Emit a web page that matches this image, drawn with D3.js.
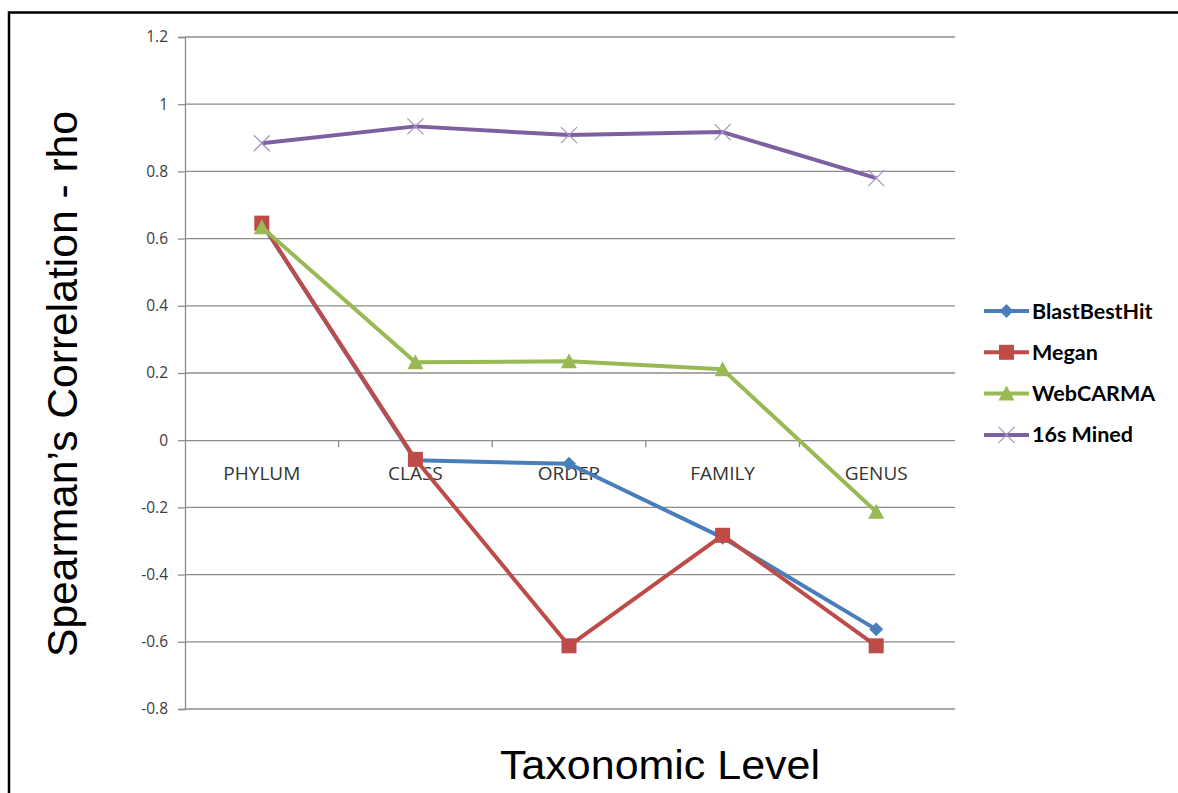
<!DOCTYPE html>
<html>
<head>
<meta charset="utf-8">
<script src="https://cdn.jsdelivr.net/npm/d3@7"></script>
<style>
  html, body { margin: 0; padding: 0; background: #fff; }
  svg { display: block; }
</style>
</head>
<body>
<svg id="chart" width="1178" height="793"></svg>
<script>
// Taxonomic levels on the x axis
const categories = ["PHYLUM", "CLASS", "ORDER", "FAMILY", "GENUS"];

// Spearman's rho per method
const blastBestHit = [0.645, -0.06, -0.07, -0.29, -0.563];
const megan        = [0.646, -0.057, -0.612, -0.283, -0.612];
const webCarma     = [0.634, 0.232, 0.235, 0.211, -0.213];
const mined16s     = [0.884, 0.934, 0.908, 0.917, 0.78];

// Y axis ticks
const yTicks = [-0.8, -0.6, -0.4, -0.2, 0, 0.2, 0.4, 0.6, 0.8, 1, 1.2];

const seriesNames  = ["BlastBestHit", "Megan", "WebCARMA", "16s Mined"];
const seriesValues = [blastBestHit, megan, webCarma, mined16s];
const seriesColors = ["#4A7EBB", "#BE4B48", "#98B954", "#7D60A0"];
const seriesMarker = ["diamond", "square", "triangle", "cross"];

const svg = d3.select("#chart");

// Frame around the chart
svg.append("rect")
  .attr("x", 9).attr("y", 12.5)
  .attr("width", 1200).attr("height", 900)
  .attr("fill", "none").attr("stroke", "#000").attr("stroke-width", 2.5);

const plot = { left: 185, right: 953, top: 37, bottom: 709 };

const x = d3.scaleBand().domain(categories).range([plot.left, plot.right]);
const y = d3.scaleLinear().domain([-0.8, 1.2]).range([plot.bottom, plot.top]);

// Left axis with ticks
const yAxis = d3.axisLeft(y).tickValues(yTicks).tickSize(7)
  .tickFormat(d => String(+d.toFixed(1)));
const gy = svg.append("g").attr("transform", `translate(${plot.left},0)`).call(yAxis);
gy.select(".domain").attr("stroke", "#8c8c8c").attr("stroke-width", 1.3);
gy.selectAll(".tick line").attr("stroke", "#8c8c8c").attr("stroke-width", 1.3);
gy.selectAll(".tick text")
  .attr("x", -17)
  .attr("fill", "#3c3c3c")
  .style("font-family", "'Open Sans', 'DejaVu Sans', sans-serif")
  .style("font-size", "15.5px");

// Horizontal gridlines
svg.append("g").selectAll("line")
  .data(yTicks.filter(v => v !== 0))
  .join("line")
  .attr("x1", plot.left).attr("x2", plot.right + 2)
  .attr("y1", d => y(d)).attr("y2", d => y(d))
  .attr("stroke", "#8c8c8c").attr("stroke-width", 1.3);

// Category axis sitting on the zero line
const xAxis = d3.axisBottom(x).tickSize(0).tickSizeOuter(0);
const gx = svg.append("g").attr("transform", `translate(0,${y(0)})`).call(xAxis);
gx.select(".domain").attr("d", `M${plot.left},0.5H${plot.right + 2}`)
  .attr("stroke", "#8c8c8c").attr("stroke-width", 1.3);
gx.selectAll(".tick text")
  .attr("y", 40).attr("dy", 0)
  .attr("fill", "#333")
  .style("font-family", "'Open Sans', 'DejaVu Sans', sans-serif")
  .style("font-size", "19px");

// Tick marks between categories
svg.append("g").selectAll("line")
  .data(categories.slice(1))
  .join("line")
  .attr("x1", d => x(d)).attr("x2", d => x(d))
  .attr("y1", y(0)).attr("y2", y(0) + 7)
  .attr("stroke", "#8c8c8c").attr("stroke-width", 1.3);

// Series lines and markers
const line = d3.line()
  .x((d, i) => x(categories[i]) + x.bandwidth() / 2)
  .y(d => y(d));

function drawMarker(g, type, color, cx, cy) {
  if (type === "diamond") {
    g.append("path").attr("d", `M${cx},${cy - 7}L${cx + 7},${cy}L${cx},${cy + 7}L${cx - 7},${cy}Z`)
      .attr("fill", color);
  } else if (type === "square") {
    g.append("rect").attr("x", cx - 7.5).attr("y", cy - 7.5).attr("width", 15).attr("height", 15)
      .attr("fill", color);
  } else if (type === "triangle") {
    g.append("path").attr("d", `M${cx},${cy - 8}L${cx + 8},${cy + 7}L${cx - 8},${cy + 7}Z`)
      .attr("fill", color);
  } else {
    g.append("path").attr("d", `M${cx - 8},${cy - 8}L${cx + 8},${cy + 8}M${cx - 8},${cy + 8}L${cx + 8},${cy - 8}`)
      .attr("stroke", "#a594c4").attr("stroke-width", 1.3).attr("fill", "none");
  }
}

seriesValues.forEach((vals, s) => {
  const g = svg.append("g");
  g.append("path").datum(vals)
    .attr("d", line)
    .attr("fill", "none")
    .attr("stroke", seriesColors[s])
    .attr("stroke-width", 4)
    .attr("stroke-linejoin", "round");
  vals.forEach((v, i) => {
    drawMarker(g, seriesMarker[s], seriesColors[s], x(categories[i]) + x.bandwidth() / 2, y(v));
  });
});

// Legend
const legend = svg.append("g");
seriesNames.forEach((name, s) => {
  const ly = 311 + s * 41.3;
  const g = legend.append("g");
  g.append("line").attr("x1", 984).attr("x2", 1029).attr("y1", ly).attr("y2", ly)
    .attr("stroke", seriesColors[s]).attr("stroke-width", 4);
  drawMarker(g, seriesMarker[s], seriesColors[s], 1006.5, ly);
  g.append("text")
    .attr("x", 1032).attr("y", ly + 7.5)
    .attr("fill", "#000")
    .style("font-family", "Lato, 'Open Sans', sans-serif")
    .style("font-weight", "bold")
    .style("font-size", "21.5px")
    .text(name);
});

// Axis titles
svg.append("text")
  .attr("transform", "translate(77,384) rotate(-90)")
  .attr("text-anchor", "middle")
  .attr("textLength", 546)
  .attr("lengthAdjust", "spacingAndGlyphs")
  .style("font-family", "'Liberation Sans', Arial, sans-serif")
  .style("font-size", "42px")
  .attr("fill", "#000")
  .text("Spearman\u2019s Correlation - rho");

svg.append("text")
  .attr("x", 660).attr("y", 779)
  .attr("text-anchor", "middle")
  .attr("textLength", 320)
  .attr("lengthAdjust", "spacingAndGlyphs")
  .style("font-family", "'Liberation Sans', Arial, sans-serif")
  .style("font-size", "40px")
  .attr("fill", "#000")
  .text("Taxonomic Level");
</script>
</body>
</html>
